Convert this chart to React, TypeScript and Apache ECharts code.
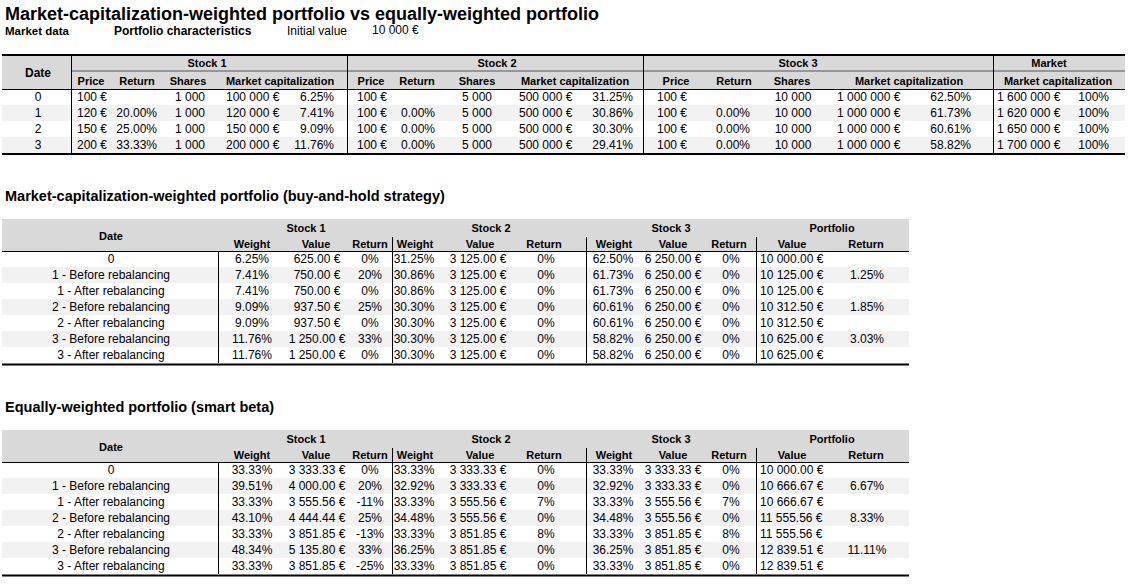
import React, { useEffect, useRef } from "react";
import * as echarts from "echarts";

const FONT = '"Liberation Sans", Arial, Helvetica, sans-serif';

// ---------- Market data ----------
const marketDates = ["0", "1", "2", "3"];
const stock1Price = [100, 120, 150, 200];
const stock1Return = [null, 20.0, 25.0, 33.33];
const stock1Shares = [1000, 1000, 1000, 1000];
const stock1Cap = [100000, 120000, 150000, 200000];
const stock1CapPct = [6.25, 7.41, 9.09, 11.76];

const stock2Price = [100, 100, 100, 100];
const stock2Return = [null, 0, 0, 0];
const stock2Shares = [5000, 5000, 5000, 5000];
const stock2Cap = [500000, 500000, 500000, 500000];
const stock2CapPct = [31.25, 30.86, 30.3, 29.41];

const stock3Price = [100, 100, 100, 100];
const stock3Return = [null, 0, 0, 0];
const stock3Shares = [10000, 10000, 10000, 10000];
const stock3Cap = [1000000, 1000000, 1000000, 1000000];
const stock3CapPct = [62.5, 61.73, 60.61, 58.82];

const marketCap = [1600000, 1620000, 1650000, 1700000];
const marketCapPct = [100, 100, 100, 100];

const initialValue = 10000;

// ---------- Portfolio dates ----------
const portfolioDates = [
  "0",
  "1 - Before rebalancing",
  "1 - After rebalancing",
  "2 - Before rebalancing",
  "2 - After rebalancing",
  "3 - Before rebalancing",
  "3 - After rebalancing",
];

// ---------- Market-cap weighted ----------
const cwS1Weight = [6.25, 7.41, 7.41, 9.09, 9.09, 11.76, 11.76];
const cwS1Value = [625, 750, 750, 937.5, 937.5, 1250, 1250];
const cwS1Return = [0, 20, 0, 25, 0, 33, 0];
const cwS2Weight = [31.25, 30.86, 30.86, 30.3, 30.3, 30.3, 30.3];
const cwS2Value = [3125, 3125, 3125, 3125, 3125, 3125, 3125];
const cwS2Return = [0, 0, 0, 0, 0, 0, 0];
const cwS3Weight = [62.5, 61.73, 61.73, 60.61, 60.61, 58.82, 58.82];
const cwS3Value = [6250, 6250, 6250, 6250, 6250, 6250, 6250];
const cwS3Return = [0, 0, 0, 0, 0, 0, 0];
const cwPortValue = [10000, 10125, 10125, 10312.5, 10312.5, 10625, 10625];
const cwPortReturn = [null, 1.25, null, 1.85, null, 3.03, null];

// ---------- Equally weighted ----------
const ewS1Weight = [33.33, 39.51, 33.33, 43.1, 33.33, 48.34, 33.33];
const ewS1Value = [3333.33, 4000, 3555.56, 4444.44, 3851.85, 5135.8, 3851.85];
const ewS1Return = [0, 20, -11, 25, -13, 33, -25];
const ewS2Weight = [33.33, 32.92, 33.33, 34.48, 33.33, 36.25, 33.33];
const ewS2Value = [3333.33, 3333.33, 3555.56, 3555.56, 3851.85, 3851.85, 3851.85];
const ewS2Return = [0, 0, 7, 0, 8, 0, 0];
const ewS3Weight = [33.33, 32.92, 33.33, 34.48, 33.33, 36.25, 33.33];
const ewS3Value = [3333.33, 3333.33, 3555.56, 3555.56, 3851.85, 3851.85, 3851.85];
const ewS3Return = [0, 0, 7, 0, 8, 0, 0];
const ewPortValue = [10000, 10666.67, 10666.67, 11555.56, 11555.56, 12839.51, 12839.51];
const ewPortReturn = [null, 6.67, null, 8.33, null, 11.11, null];

// ---------- formatting ----------
function fmtNum(v: number, dec: number): string {
  const s = Math.abs(v).toFixed(dec);
  const [ip, fp] = s.split(".");
  let out = "";
  for (let i = 0; i < ip.length; i++) {
    if (i > 0 && (ip.length - i) % 3 === 0) out += " ";
    out += ip[i];
  }
  return (v < 0 ? "-" : "") + out + (fp ? "." + fp : "");
}
const eur = (dec: number) => (v: number | null) => (v == null ? "" : fmtNum(v, dec) + " €");
const pct = (dec: number) => (v: number | null) => (v == null ? "" : v.toFixed(dec) + "%");
const num = (v: number | null) => (v == null ? "" : fmtNum(v, 0));

const GREY = "#d9d9d9";
const SHADE = "#f2f2f2";

function txt(x: number, y: number, text: string, align = "left", bold = false, size = 12) {
  return {
    type: "text",
    x,
    y,
    silent: true,
    z: 10,
    style: {
      text,
      fill: "#000",
      font: `${bold ? "bold " : ""}${size}px ${FONT}`,
      textAlign: align,
      textVerticalAlign: "middle",
      align,
      verticalAlign: "middle",
    },
  };
}
function ln(x1: number, y1: number, x2: number, y2: number, w = 1, color = "#000") {
  return { type: "line", silent: true, z: 5, shape: { x1, y1, x2, y2 }, style: { stroke: color, lineWidth: w } };
}
function rc(x: number, y: number, width: number, height: number, fill: string) {
  return { type: "rect", silent: true, z: 1, shape: { x, y, width, height }, style: { fill } };
}

type Col = { vals: string[]; x: number; align: string };

function buildElements() {
  const els: any[] = [];

  // Titles
  els.push(txt(5, 13.5, "Market-capitalization-weighted portfolio vs equally-weighted portfolio", "left", true, 18));
  els.push(txt(5, 31, "Market data", "left", true, 11.5));
  els.push(txt(114, 31, "Portfolio characteristics", "left", true, 12));
  els.push(txt(287, 31, "Initial value", "left", false, 12));
  els.push(txt(372, 30, eur(0)(initialValue), "left", false, 12));

  // ---------------- Table 1 ----------------
  const L = 2, R1 = 1125;
  const t1Top = 56, t1HeadBot = 89, rowH = 16;
  els.push(rc(L, t1Top, R1 - L, t1HeadBot - t1Top, GREY));
  marketDates.forEach((_, i) => {
    if (i % 2 === 1) els.push(rc(L, t1HeadBot + i * rowH, R1 - L, rowH, SHADE));
  });
  const t1Bot = t1HeadBot + marketDates.length * rowH;
  els.push(ln(L, 55, R1, 55, 2));
  els.push(ln(71.5, 71, R1, 71, 1, "#555"));
  els.push(ln(L, t1HeadBot + 0.5, R1, t1HeadBot + 0.5, 1));
  els.push(ln(L, t1Bot + 1, R1, t1Bot + 1, 2));
  [71.5, 347.5, 643.5, 993.5].forEach((x) => els.push(ln(x, t1Top, x, t1Bot, 1)));

  els.push(txt(38, 73, "Date", "center", true, 12));
  [["Stock 1", 207], ["Stock 2", 497], ["Stock 3", 798], ["Market", 1049]].forEach(([t, x]) =>
    els.push(txt(x as number, 63, t as string, "center", true, 11))
  );
  const sub1: [string, number][] = [
    ["Price", 91], ["Return", 137], ["Shares", 188], ["Market capitalization", 280],
    ["Price", 371], ["Return", 417], ["Shares", 477], ["Market capitalization", 575],
    ["Price", 676], ["Return", 734], ["Shares", 792], ["Market capitalization", 909],
    ["Market capitalization", 1058],
  ];
  sub1.forEach(([t, x]) => els.push(txt(x, 81, t, "center", true, 11)));

  const cols1: Col[] = [
    { vals: marketDates, x: 38, align: "center" },
    { vals: stock1Price.map(eur(0)), x: 77, align: "left" },
    { vals: stock1Return.map(pct(2)), x: 157, align: "right" },
    { vals: stock1Shares.map(num), x: 190, align: "center" },
    { vals: stock1Cap.map(eur(0)), x: 226, align: "left" },
    { vals: stock1CapPct.map(pct(2)), x: 334, align: "right" },
    { vals: stock2Price.map(eur(0)), x: 357, align: "left" },
    { vals: stock2Return.map(pct(2)), x: 435, align: "right" },
    { vals: stock2Shares.map(num), x: 477, align: "center" },
    { vals: stock2Cap.map(eur(0)), x: 519, align: "left" },
    { vals: stock2CapPct.map(pct(2)), x: 633, align: "right" },
    { vals: stock3Price.map(eur(0)), x: 657, align: "left" },
    { vals: stock3Return.map(pct(2)), x: 750, align: "right" },
    { vals: stock3Shares.map(num), x: 793, align: "center" },
    { vals: stock3Cap.map(eur(0)), x: 837, align: "left" },
    { vals: stock3CapPct.map(pct(2)), x: 971, align: "right" },
    { vals: marketCap.map(eur(0)), x: 997, align: "left" },
    { vals: marketCapPct.map(pct(0)), x: 1109, align: "right" },
  ];
  cols1.forEach((c) =>
    c.vals.forEach((v, i) => {
      if (v) els.push(txt(c.x, t1HeadBot + i * rowH + 8, v, c.align, false, 12));
    })
  );

  // ---------------- Portfolio tables ----------------
  const R2 = 909;
  function portTable(top: number, title: string, data: {
    s1w: number[]; s1v: number[]; s1r: number[];
    s2w: number[]; s2v: number[]; s2r: number[];
    s3w: number[]; s3v: number[]; s3r: number[];
    pv: number[]; pr: (number | null)[];
  }) {
    els.push(txt(5, top - 23, title, "left", true, 14.5));
    const headBot = top + 32;
    els.push(rc(L, top, R2 - L, headBot - top, GREY));
    portfolioDates.forEach((_, i) => {
      if (i % 2 === 1) els.push(rc(L, headBot + i * rowH, R2 - L, rowH, SHADE));
    });
    const bot = headBot + portfolioDates.length * rowH;
    els.push(ln(L, headBot + 0.5, R2, headBot + 0.5, 1));
    els.push(ln(L, bot + 1.5, R2, bot + 1.5, 2));
    els.push(ln(218.5, headBot, 218.5, bot, 1));
    [392.5, 586.5, 756.5].forEach((x) => els.push(ln(x, top + 18, x, bot, 1)));

    els.push(txt(111, top + 17, "Date", "center", true, 11));
    [["Stock 1", 306], ["Stock 2", 491], ["Stock 3", 671], ["Portfolio", 832]].forEach(([t, x]) =>
      els.push(txt(x as number, top + 9, t as string, "center", true, 11))
    );
    const sub: [string, number][] = [
      ["Weight", 252], ["Value", 316], ["Return", 370],
      ["Weight", 415], ["Value", 480], ["Return", 544],
      ["Weight", 614], ["Value", 673], ["Return", 729],
      ["Value", 792], ["Return", 866],
    ];
    sub.forEach(([t, x]) => els.push(txt(x, top + 25, t, "center", true, 11)));

    const cols: Col[] = [
      { vals: portfolioDates, x: 111, align: "center" },
      { vals: data.s1w.map(pct(2)), x: 252, align: "center" },
      { vals: data.s1v.map(eur(2)), x: 317, align: "center" },
      { vals: data.s1r.map(pct(0)), x: 370, align: "center" },
      { vals: data.s2w.map(pct(2)), x: 414, align: "center" },
      { vals: data.s2v.map(eur(2)), x: 478, align: "center" },
      { vals: data.s2r.map(pct(0)), x: 546, align: "center" },
      { vals: data.s3w.map(pct(2)), x: 613, align: "center" },
      { vals: data.s3v.map(eur(2)), x: 673, align: "center" },
      { vals: data.s3r.map(pct(0)), x: 731, align: "center" },
      { vals: data.pv.map(eur(2)), x: 760, align: "left" },
      { vals: data.pr.map(pct(2)), x: 867, align: "center" },
    ];
    cols.forEach((c) =>
      c.vals.forEach((v, i) => {
        if (v) els.push(txt(c.x, headBot + i * rowH + 8, v, c.align, false, 12));
      })
    );
  }

  portTable(219, "Market-capitalization-weighted portfolio (buy-and-hold strategy)", {
    s1w: cwS1Weight, s1v: cwS1Value, s1r: cwS1Return,
    s2w: cwS2Weight, s2v: cwS2Value, s2r: cwS2Return,
    s3w: cwS3Weight, s3v: cwS3Value, s3r: cwS3Return,
    pv: cwPortValue, pr: cwPortReturn,
  });
  portTable(430, "Equally-weighted portfolio (smart beta)", {
    s1w: ewS1Weight, s1v: ewS1Value, s1r: ewS1Return,
    s2w: ewS2Weight, s2v: ewS2Value, s2r: ewS2Return,
    s3w: ewS3Weight, s3v: ewS3Value, s3r: ewS3Return,
    pv: ewPortValue, pr: ewPortReturn,
  });

  return els;
}

export default function App() {
  const ref = useRef<HTMLDivElement>(null);
  useEffect(() => {
    document.body.style.margin = "0";
    const chart = echarts.init(ref.current!, undefined, { renderer: "svg" });
    chart.setOption({
      animation: false,
      backgroundColor: "#ffffff",
      graphic: { elements: buildElements() },
    });
    return () => chart.dispose();
  }, []);
  return (
    <div
      ref={ref}
      style={{ position: "fixed", left: 0, top: 0, width: 1134, height: 584, background: "#fff" }}
    />
  );
}
